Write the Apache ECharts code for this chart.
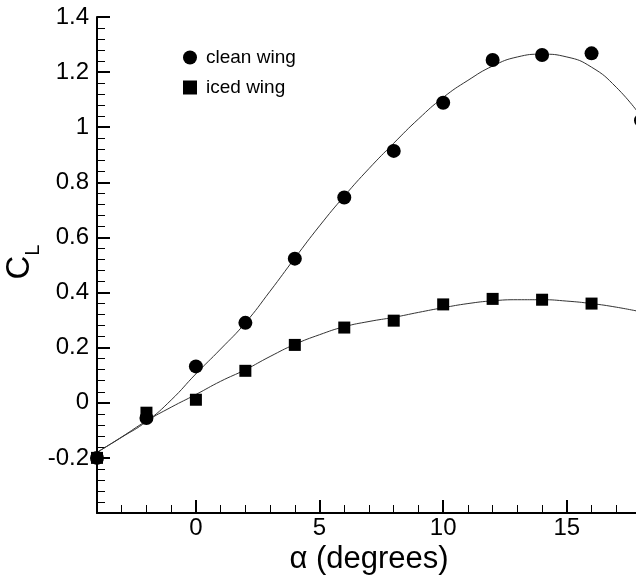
<!DOCTYPE html>
<html>
<head>
<meta charset="utf-8">
<title>CL vs alpha</title>
<script src="https://cdn.jsdelivr.net/npm/echarts@6/dist/echarts.min.js"></script>
<style>
  html, body { margin: 0; padding: 0; background: #fff; }
  #chart { width: 636px; height: 577px; }
</style>
</head>
<body>
<div id="chart"></div>
<script>
// measured points (angle of attack, degrees)
const alphaPts = [-4, -2, 0, 2, 4, 6, 8, 10, 12, 14, 16, 18];
const cleanPts = [-0.2, -0.055, 0.132, 0.29, 0.523, 0.745, 0.914, 1.089, 1.244, 1.262, 1.268, 1.025];
const alphaIced = [-4, -2, 0, 2, 4, 6, 8, 10, 12, 14, 16];
const icedPts = [-0.2, -0.036, 0.011, 0.116, 0.21, 0.273, 0.298, 0.357, 0.377, 0.374, 0.36];

// fitted curves
const alphaFit = [-4, -3, -2, -1, 0, 1, 2, 3, 4, 5, 6, 7, 8, 9, 10, 11, 12, 13, 14, 15, 16, 17, 18];
const cleanFit = [-0.18, -0.125, -0.068, 0.01, 0.105, 0.195, 0.29, 0.405, 0.525, 0.642, 0.75, 0.85, 0.942, 1.03, 1.108, 1.17, 1.222, 1.255, 1.265, 1.255, 1.218, 1.145, 1.04];
const icedFit = [-0.18, -0.124, -0.066, -0.016, 0.03, 0.078, 0.12, 0.168, 0.212, 0.247, 0.276, 0.295, 0.31, 0.328, 0.345, 0.36, 0.37, 0.374, 0.374, 0.369, 0.36, 0.347, 0.33];

const xMajor = [0, 5, 10, 15];

const pairs = (xs, ys) => xs.map((x, i) => [x, ys[i]]);

const font = "'Liberation Sans', Arial, sans-serif";
const chart = echarts.init(document.getElementById('chart'));

chart.setOption({
  animation: false,
  backgroundColor: '#fff',
  textStyle: { fontFamily: font },
  grid: { left: 97, right: -5, top: 17, bottom: 64, containLabel: false, outerBoundsMode: 'none' },
  legend: {
    orient: 'vertical', left: 178, top: 43,
    itemWidth: 14, itemHeight: 14, itemGap: 11,
    data: ['clean wing', 'iced wing'],
    textStyle: { fontSize: 19, color: '#000', fontFamily: font, padding: [0, 0, 0, 4] }
  },
  xAxis: [
    {
      type: 'value', min: -4, max: 18, interval: 1,
      axisLine: { show: true, onZero: false, lineStyle: { color: '#000', width: 2 } },
      axisTick: { show: true, inside: true, length: 8, lineStyle: { color: '#000', width: 1 } },
      axisLabel: { show: false },
      splitLine: { show: false }
    },
    {
      type: 'value', min: -4, max: 18, position: 'bottom',
      axisLine: { show: false, onZero: false },
      axisTick: { show: true, inside: true, length: 13, customValues: xMajor, lineStyle: { color: '#000', width: 2 } },
      axisLabel: { show: true, customValues: xMajor, fontSize: 24, color: '#000', margin: 3, fontFamily: font },
      splitLine: { show: false },
      name: 'α (degrees)', nameLocation: 'middle', nameGap: 31, nameMoveOverlap: false,
      nameTextStyle: { fontSize: 31, color: '#000', fontFamily: font }
    }
  ],
  yAxis: {
    type: 'value', min: -0.4, max: 1.4, interval: 0.2,
    axisLine: { show: true, onZero: false, lineStyle: { color: '#000', width: 2 } },
    axisTick: { show: true, inside: true, length: 13, lineStyle: { color: '#000', width: 2 } },
    minorTick: { show: true, splitNumber: 5, length: 8, lineStyle: { color: '#000', width: 1 } },
    axisLabel: {
      fontSize: 24, color: '#000', margin: 8, fontFamily: font,
      formatter: (v) => (Math.abs(v + 0.4) < 1e-9 ? '' : String(+v.toFixed(2)))
    },
    splitLine: { show: false },
    name: '{c|C}{s|L}', nameLocation: 'middle', nameGap: 54, nameMoveOverlap: false,
    nameTextStyle: {
      fontFamily: font, color: '#000',
      rich: {
        c: { fontSize: 33, lineHeight: 33, verticalAlign: 'bottom', padding: [0, 0, 7, 6], fontFamily: font, color: '#000' },
        s: { fontSize: 20, lineHeight: 20, verticalAlign: 'bottom', fontFamily: font, color: '#000' }
      }
    }
  },
  series: [
    {
      name: 'clean fit', type: 'line', smooth: true, showSymbol: false, silent: true,
      xAxisIndex: 0, data: pairs(alphaFit, cleanFit),
      lineStyle: { color: '#333', width: 1 }, z: 1
    },
    {
      name: 'iced fit', type: 'line', smooth: true, showSymbol: false, silent: true,
      xAxisIndex: 0, data: pairs(alphaFit, icedFit),
      lineStyle: { color: '#333', width: 1 }, z: 1
    },
    {
      name: 'clean wing', type: 'scatter', symbol: 'circle', symbolSize: 14,
      xAxisIndex: 0, data: pairs(alphaPts, cleanPts),
      itemStyle: { color: '#000', opacity: 1 }, z: 3
    },
    {
      name: 'iced wing', type: 'scatter', symbol: 'rect', symbolSize: 12,
      xAxisIndex: 0, data: pairs(alphaIced, icedPts),
      itemStyle: { color: '#000', opacity: 1 }, z: 3
    }
  ]
});
</script>
</body>
</html>
